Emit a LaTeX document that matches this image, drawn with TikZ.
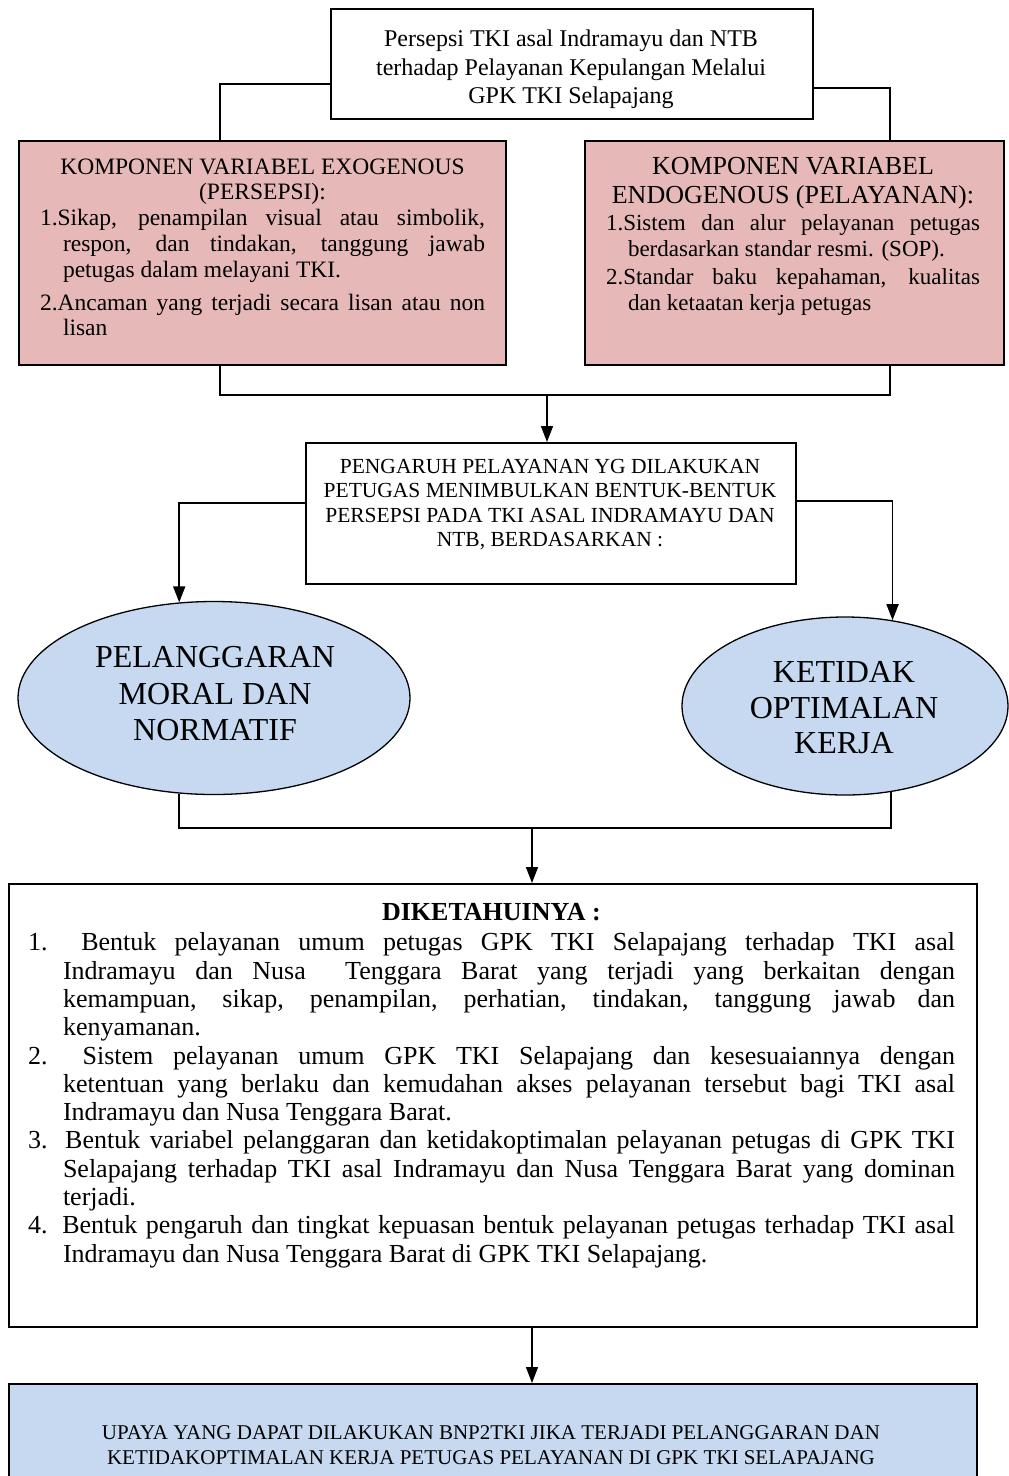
\documentclass[tikz,border=0pt]{standalone}
\usepackage{fontspec}
\setmainfont{Liberation Serif}
\usetikzlibrary{arrows.meta,shapes.geometric}
\definecolor{pinkfill}{RGB}{230,185,184}
\definecolor{bluefill}{RGB}{198,217,241}
\tolerance=10000
\hbadness=10000
\hyphenpenalty=10000
\exhyphenpenalty=10000
\tikzset{
  box/.style={draw, line width=1.5pt, inner sep=0pt, anchor=north west},
  oval/.style={ellipse, draw, line width=1.3pt, fill=bluefill, inner sep=0pt},
  conn/.style={line width=1.5pt},
  arr/.style={line width=1.5pt, -{Triangle[width=12pt,length=16pt]}},
  txt/.style={inner sep=0pt, anchor=base},
}
\begin{document}
\begin{tikzpicture}[x=1pt,y=-1pt]
\useasboundingbox (0,0) rectangle (1009,1476);
\fill[white] (0,0) rectangle (1009,1476);

% boxes
\node[box, minimum width=482pt, minimum height=110pt] (top) at (330,8) {};
\node[box, fill=pinkfill, minimum width=487pt, minimum height=224pt] (pl) at (18,140) {};
\node[box, fill=pinkfill, minimum width=419pt, minimum height=224pt] (pr) at (584,140) {};
\node[box, minimum width=490pt, minimum height=141pt] (mid) at (305,442) {};
\node[oval, minimum width=392pt, minimum height=193pt] (e1) at (214,698) {};
\node[oval, minimum width=326pt, minimum height=178pt] (e2) at (845,706) {};
\node[box, minimum width=968pt, minimum height=443pt] (big) at (8,883) {};
\node[box, fill=bluefill, minimum width=968pt, minimum height=110pt] (blue) at (8,1383) {};

% texts
\node[txt] (toptxt) at (571,46.5) {\parbox[t]{470pt}{\centering\fontsize{24}{28.7}\selectfont
Persepsi TKI asal Indramayu dan NTB\\
terhadap Pelayanan Kepulangan Melalui\\
GPK TKI Selapajang}};

\node[txt] (pltxt) at (262.5,174) {\parbox[t]{445pt}{\parindent=0pt\fontsize{23.5}{25.8}\selectfont
{\centering KOMPONEN VARIABEL EXOGENOUS\\ (PERSEPSI):\par}
\hangindent=23pt\hangafter=1
1.Sikap, penampilan visual atau simbolik,\linebreak
respon, dan tindakan, tanggung jawab\linebreak
petugas dalam melayani TKI.\par
\vspace{7pt}
\hangindent=23pt\hangafter=1
2.Ancaman yang terjadi secara lisan atau non\linebreak
lisan\par}};

\node[txt] (prtxt) at (793,174) {\parbox[t]{374pt}{\parindent=0pt\fontsize{26}{29.5}\selectfont
{\centering KOMPONEN VARIABEL\\ ENDOGENOUS (PELAYANAN):\par}
\fontsize{23}{26.5}\selectfont
\hangindent=22pt\hangafter=1
1.Sistem dan alur pelayanan petugas\linebreak
berdasarkan standar resmi. (SOP).\par
\vspace{1pt}
\hangindent=22pt\hangafter=1
2.Standar baku kepahaman, kualitas\linebreak
dan ketaatan kerja petugas\par}};

\node[txt] (midtxt) at (550,473) {\parbox[t]{480pt}{\centering\fontsize{21.5}{24.5}\selectfont
PENGARUH PELAYANAN YG DILAKUKAN\\
PETUGAS MENIMBULKAN BENTUK-BENTUK\\
PERSEPSI PADA TKI ASAL INDRAMAYU DAN\\
NTB, BERDASARKAN :}};

\node[txt] (e1txt) at (215,667.6) {\parbox[t]{300pt}{\centering\fontsize{32}{36.5}\selectfont
PELANGGARAN\\ MORAL DAN\\ NORMATIF}};
\node[txt] (e2txt) at (844,682.6) {\parbox[t]{280pt}{\centering\fontsize{32}{35.5}\selectfont
KETIDAK\\ OPTIMALAN\\ KERJA}};

\node[txt] (bigtxt) at (491.5,920.5) {\parbox[t]{927pt}{\parindent=0pt\fontsize{26}{28.3}\selectfont
{\centering\bfseries DIKETAHUINYA :\par}
\vspace{2pt}
\hangindent=35pt\hangafter=1
\makebox[35pt][l]{1.} Bentuk pelayanan umum petugas GPK TKI Selapajang terhadap TKI asal\linebreak
Indramayu dan Nusa\ \ Tenggara Barat yang terjadi yang berkaitan dengan\linebreak
kemampuan, sikap, penampilan, perhatian, tindakan, tanggung jawab dan\linebreak
kenyamanan.\par
\hangindent=35pt\hangafter=1
\makebox[35pt][l]{2.} Sistem pelayanan umum GPK TKI Selapajang dan kesesuaiannya dengan\linebreak
ketentuan yang berlaku dan kemudahan akses pelayanan tersebut bagi TKI asal\linebreak
Indramayu dan Nusa Tenggara Barat.\par
\hangindent=35pt\hangafter=1
3. Bentuk variabel pelanggaran dan ketidakoptimalan pelayanan petugas di GPK TKI\linebreak
Selapajang terhadap TKI asal Indramayu dan Nusa Tenggara Barat yang dominan\linebreak
terjadi.\par
\hangindent=35pt\hangafter=1
4. Bentuk pengaruh dan tingkat kepuasan bentuk pelayanan petugas terhadap TKI asal\linebreak
Indramayu dan Nusa Tenggara Barat di GPK TKI Selapajang.\par}};

\node[txt] (bluetxt) at (491,1439.5) {\parbox[t]{960pt}{\centering\fontsize{21}{25}\selectfont
UPAYA YANG DAPAT DILAKUKAN BNP2TKI JIKA TERJADI PELANGGARAN DAN\\
KETIDAKOPTIMALAN KERJA PETUGAS PELAYANAN DI GPK TKI SELAPAJANG}};

% connectors
\coordinate (tl) at (220,84);
\coordinate (tr) at (890,88);
\draw[conn] (top.west |- tl) -- (tl) -- (tl |- pl.north);
\draw[conn] (top.east |- tr) -- (tr) -- (tr |- pr.north);

\coordinate (jl) at (220,395);
\coordinate (jr) at (890,395);
\coordinate (jm) at (547,395);
\draw[conn] (jl |- pl.south) -- (jl) -- (jr) -- (jr |- pr.south);
\draw[arr] (jm) -- (jm |- mid.north);

\coordinate (ml) at (180,503);
\coordinate (mr) at (892,501);
\draw[arr] (mid.west |- ml) -| (e1.110);
\draw[arr] (mid.east |- mr) -| (e2.61);

\coordinate (hb) at (532,828);
\draw[conn] (e1.250) |- (hb) -| (e2.298);
\draw[arr] (hb) -- (hb |- big.north);
\draw[arr] (big.south -| hb) -- (blue.north -| hb);
\end{tikzpicture}
\end{document}
